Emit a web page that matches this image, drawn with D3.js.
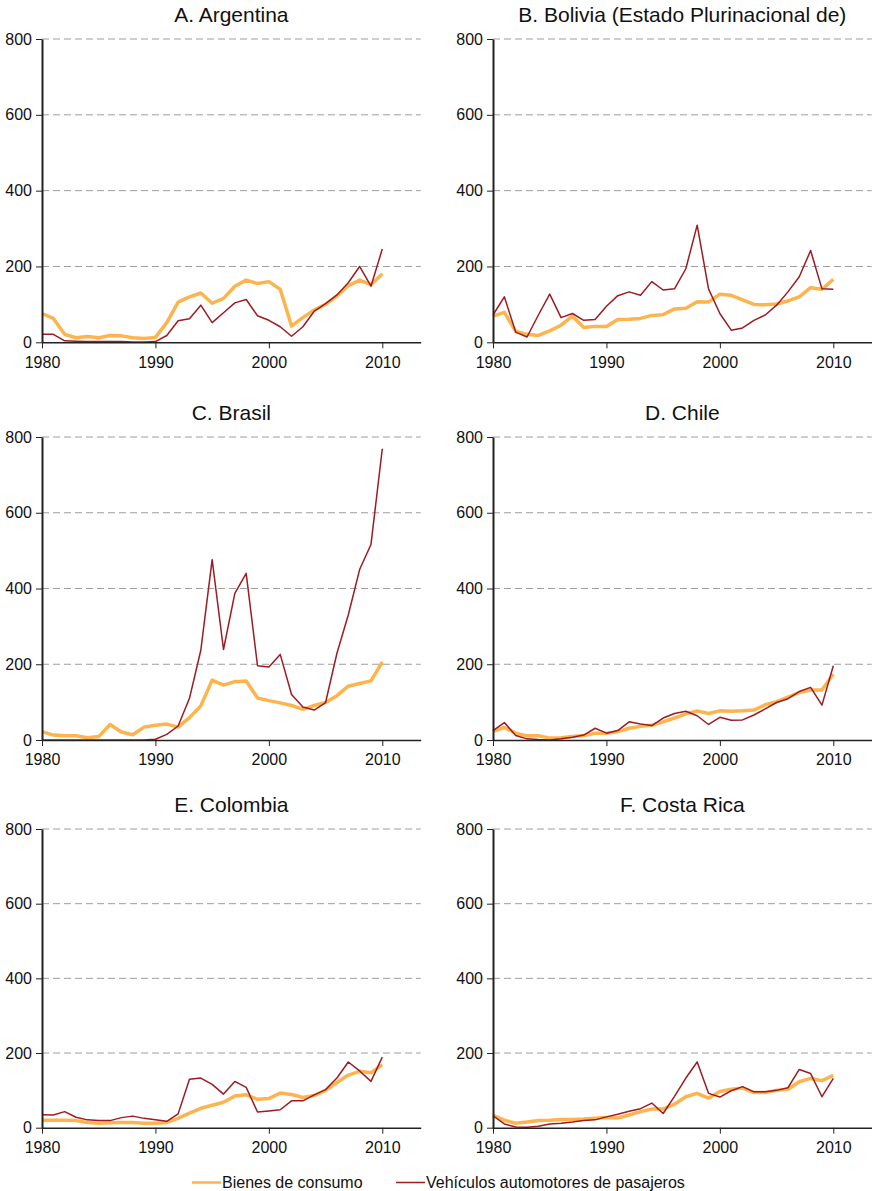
<!DOCTYPE html>
<html>
<head>
<meta charset="utf-8">
<script src="https://cdn.jsdelivr.net/npm/d3@7"></script>
<style>
 body { margin: 0; background: #fff; }
 svg { display: block; font-family: "Liberation Sans", Arial, sans-serif; }
 .grid line { stroke: #9e9e9e; stroke-width: 1; stroke-dasharray: 7 4; }
 .axis text { font-size: 16px; fill: #111; }
 .axis path, .axis line { stroke: #222; }
 .title { font-size: 21px; fill: #111; text-anchor: middle; }
 .legend text { font-size: 16px; fill: #111; }
</style>
</head>
<body>
<svg id="chart" width="872" height="1191"></svg>
<script>
 const years = [1980, 1981, 1982, 1983, 1984, 1985, 1986, 1987, 1988, 1989,
                1990, 1991, 1992, 1993, 1994, 1995, 1996, 1997, 1998, 1999,
                2000, 2001, 2002, 2003, 2004, 2005, 2006, 2007, 2008, 2009, 2010];
 const yTicks = [0, 200, 400, 600, 800];
 const xTicks = [1980, 1990, 2000, 2010];
 const seriesNames = ['Bienes de consumo', 'Vehículos automotores de pasajeros'];
 const titles = ['A. Argentina', 'B. Bolivia (Estado Plurinacional de)', 'C. Brasil',
                 'D. Chile', 'E. Colombia', 'F. Costa Rica'];

 // Bienes de consumo / Vehiculos automotores de pasajeros, por pais
 const argBienes = [76, 63, 21, 12, 15, 12, 18, 17, 12, 10, 13, 52, 106, 120, 130, 103,
                    116, 148, 164, 155, 160, 140, 43, 65, 85, 100, 122, 149, 164, 152, 181];
 const argVehic  = [21, 21, 4, 3, 2, 2, 2, 2, 1, 1, 2, 18, 57, 62, 98, 52,
                    78, 104, 113, 70, 58, 41, 16, 41, 82, 102, 125, 157, 200, 148, 246];
 const bolBienes = [69, 79, 29, 21, 18, 30, 45, 69, 39, 42, 42, 60, 61, 63, 71, 73,
                    88, 90, 107, 106, 127, 124, 112, 100, 99, 101, 109, 120, 144, 140, 166];
 const bolVehic  = [72, 120, 27, 14, 72, 127, 65, 76, 58, 60, 95, 123, 133, 124, 160, 138,
                    141, 194, 309, 141, 76, 32, 38, 58, 72, 98, 133, 173, 242, 141, 140];
 const braBienes = [22, 13, 11, 11, 6, 9, 41, 21, 14, 34, 39, 42, 34, 59, 90, 158,
                    145, 154, 156, 111, 104, 98, 91, 81, 91, 99, 117, 142, 149, 156, 206];
 const braVehic  = [0, 0, 0, 0, 0, 0, 0, 0, 0, 0, 2, 15, 37, 110, 237, 476,
                    239, 387, 440, 196, 193, 226, 120, 87, 79, 99, 229, 330, 450, 516, 769];
 const chiBienes = [23, 33, 18, 11, 11, 5, 6, 9, 12, 18, 18, 22, 31, 36, 39, 48,
                    58, 69, 77, 70, 77, 76, 77, 79, 93, 101, 113, 125, 132, 132, 174];
 const chiVehic  = [25, 46, 12, 3, 1, 0, 3, 7, 13, 31, 18, 25, 48, 42, 38, 58,
                    70, 76, 64, 41, 60, 52, 53, 66, 82, 99, 109, 128, 139, 92, 196];
 const colBienes = [20, 20, 20, 19, 14, 12, 13, 14, 14, 12, 12, 14, 25, 39, 52, 60,
                    68, 85, 88, 76, 78, 93, 89, 81, 86, 100, 121, 141, 151, 147, 169];
 const colVehic  = [35, 34, 43, 28, 21, 19, 19, 27, 31, 25, 21, 17, 37, 130, 133, 116,
                    90, 124, 108, 42, 45, 48, 72, 72, 88, 102, 133, 176, 152, 124, 189];
 const cosBienes = [33, 20, 12, 15, 19, 20, 22, 22, 23, 25, 27, 26, 34, 43, 50, 50,
                    63, 83, 92, 79, 97, 103, 106, 94, 94, 100, 103, 123, 132, 126, 140];
 const cosVehic  = [32, 10, 2, 1, 4, 10, 12, 15, 19, 21, 29, 36, 44, 51, 66, 38,
                    84, 133, 176, 92, 82, 99, 110, 96, 96, 100, 107, 156, 145, 83, 132];

 const panelData = [
   [argBienes, argVehic], [bolBienes, bolVehic], [braBienes, braVehic],
   [chiBienes, chiVehic], [colBienes, colVehic], [cosBienes, cosVehic]
 ];

 const colors = ['#fdb44e', '#9b1c22'];
 const widths = [3.5, 1.5];

 // layout: column left edge of axis, rows top (800) and bottom (0)
 const colX = [42, 493];
 const plotW = 378.7;
 const rowTop = [39, 437, 829];
 const rowBot = [342.3, 740, 1127.7];

 const svg = d3.select('#chart');

 titles.forEach((title, i) => {
   const col = i % 2, row = Math.floor(i / 2);
   const x = d3.scaleLinear()
               .domain([1980, 1980 + 30 * plotW / (382.3 - 42)])
               .range([colX[col], colX[col] + plotW]);
   const y = d3.scaleLinear()
               .domain([0, 800])
               .range([rowBot[row], rowTop[row]]);

   const g = svg.append('g');

   g.append('text')
    .attr('class', 'title')
    .attr('x', colX[col] + plotW / 2)
    .attr('y', rowTop[row] - 17)
    .text(title);

   // dashed gridlines
   g.append('g')
    .attr('class', 'grid')
    .selectAll('line')
    .data(yTicks.filter(d => d > 0))
    .enter()
    .append('line')
    .attr('x1', x.range()[0])
    .attr('x2', x.range()[1])
    .attr('y1', d => y(d))
    .attr('y2', d => y(d));

   const line = d3.line()
                  .x((d, k) => x(years[k]))
                  .y(d => y(d));

   panelData[i].forEach((vals, s) => {
     g.append('path')
      .datum(vals)
      .attr('fill', 'none')
      .attr('stroke', colors[s])
      .attr('stroke-width', widths[s])
      .attr('stroke-linejoin', 'round')
      .attr('d', line);
   });

   // axes
   g.append('g')
    .attr('class', 'axis')
    .attr('transform', `translate(0,${rowBot[row]})`)
    .call(d3.axisBottom(x).tickValues(xTicks).tickFormat(d3.format('d'))
            .tickSize(6).tickSizeOuter(0).tickPadding(8))
    .call(a => a.select('.domain').attr('stroke-width', 1.5));

   g.append('g')
    .attr('class', 'axis')
    .attr('transform', `translate(${colX[col]},0)`)
    .call(d3.axisLeft(y).tickValues(yTicks).tickSize(6).tickSizeOuter(0).tickPadding(4))
    .call(a => a.select('.domain').attr('stroke-width', 2).attr('stroke', '#333'));
 });

 // legend
 const legend = svg.append('g').attr('class', 'legend');
 const legendX = [192, 396];
 seriesNames.forEach((name, s) => {
   legend.append('line')
         .attr('x1', legendX[s]).attr('x2', legendX[s] + 29)
         .attr('y1', 1182.5).attr('y2', 1182.5)
         .attr('stroke', colors[s])
         .attr('stroke-width', s === 0 ? 2.5 : 1.5);
   legend.append('text')
         .attr('x', legendX[s] + 30)
         .attr('y', 1188)
         .text(name);
 });
</script>
</body>
</html>
